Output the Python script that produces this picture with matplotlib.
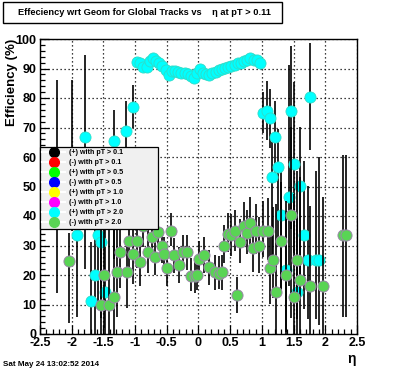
import matplotlib
matplotlib.use("Agg")
import matplotlib.pyplot as plt
from matplotlib.lines import Line2D
from matplotlib.patches import Rectangle
import numpy as np

plt.rcParams['font.family'] = ['Liberation Sans', 'DejaVu Sans']
plt.rcParams['font.weight'] = 'bold'

# ---------------- data ----------------
title_text = "Effeciency wrt Geom for Global Tracks vs    \u03b7 at pT > 0.11"
date_text = "Sat May 24 13:02:52 2014"
xlabel_text = "\u03b7"
ylabel_text = "Efficiency (%)"
xtick_vals = [-2.5, -2, -1.5, -1, -0.5, 0, 0.5, 1, 1.5, 2, 2.5]
xtick_labels = ["-2.5", "-2", "-1.5", "-1", "-0.5", "0", "0.5", "1", "1.5", "2", "2.5"]
ytick_vals = [0, 10, 20, 30, 40, 50, 60, 70, 80, 90, 100]
ytick_labels = ["0", "10", "20", "30", "40", "50", "60", "70", "80", "90", "100"]

legend_labels = ["(+) with pT > 0.1", "(-) with pT > 0.1", "(+) with pT > 0.5",
                 "(-) with pT > 0.5", "(+) with pT > 1.0", "(-) with pT > 1.0",
                 "(+) with pT > 2.0", "(-) with pT > 2.0"]
legend_colors = ["#000000", "#ff0000", "#00ff00", "#0000ff", "#ffff00", "#ff00ff",
                 "#00ffff", "#59d454"]

# (+) with pT > 2.0  (cyan)
cyan_left_eta = [-1.92, -1.79, -1.70, -1.63, -1.58, -1.54, -1.47, -1.33, -1.14, -1.03]
cyan_left_eff = [33.6, 66.9, 11.2, 20.0, 33.6, 31.3, 14.3, 65.5, 68.9, 76.8]
cyan_left_lo = [28, 45, 11.2, 20, 25, 26, 14.3, 40, 20, 7]
cyan_left_hi = [10, 27.6, 20, 25, 20, 20, 30, 10.5, 10, 7.6]

cyan_band_eta = [-0.97, -0.92, -0.87, -0.82, -0.77, -0.72, -0.67, -0.62, -0.57, -0.52,
                 -0.47, -0.42, -0.37, -0.32, -0.27, -0.22, -0.17, -0.12, -0.07, -0.02,
                 0.02, 0.07, 0.12, 0.17, 0.22, 0.27, 0.32, 0.37, 0.42, 0.47,
                 0.52, 0.57, 0.62, 0.67, 0.72, 0.77, 0.82, 0.87, 0.92, 0.97]
cyan_band_eff = [92.3, 91.8, 90.5, 90.6, 92.5, 93.5, 92.5, 91.8, 91.0, 89.5,
                 87.7, 89.3, 89.0, 88.8, 88.5, 88.4, 88.0, 87.5, 86.7, 88.5,
                 90.0, 88.4, 88.0, 87.7, 88.4, 88.8, 89.5, 89.8, 90.1, 90.5,
                 91.0, 91.3, 91.8, 92.0, 92.5, 92.8, 93.5, 93.0, 92.8, 92.0]
cyan_band_lo = [0.8] * 40
cyan_band_hi = [0.8] * 40

cyan_right_eta = [1.02, 1.08, 1.12, 1.16, 1.21, 1.26, 1.30, 1.38, 1.42, 1.46,
                  1.51, 1.56, 1.60, 1.66, 1.72, 1.76, 1.86, 1.90]
cyan_right_eff = [75.0, 75.6, 73.1, 53.1, 66.9, 56.5, 40.3, 21.7, 46.3, 75.6,
                  57.5, 14.3, 50.2, 33.6, 25.1, 80.5, 25.1, 25.1]
cyan_right_lo = [7, 10, 10, 30, 15, 25, 25, 21, 30, 40, 30, 14.3, 30, 25, 20, 18, 20, 22]
cyan_right_hi = [7, 10, 10, 12, 12, 13, 15, 20, 45, 22, 28, 25, 20, 25, 25, 18, 30, 35]

# (-) with pT > 2.0  (light green)
green_eta = [-2.23, -2.04, -1.99, -1.54, -1.49, -1.41, -1.33, -1.29, -1.24, -1.13,
             -1.10, -1.03, -0.97, -0.93, -0.88, -0.80, -0.73, -0.68, -0.64, -0.58,
             -0.54, -0.49, -0.43, -0.39, -0.31, -0.24, -0.18, -0.12, -0.06, -0.02,
             0.01, 0.09, 0.17, 0.26, 0.33, 0.37, 0.41, 0.47, 0.52, 0.58,
             0.61, 0.65, 0.71, 0.77, 0.82, 0.86, 0.91, 0.96, 1.01, 1.09,
             1.12, 1.17, 1.22, 1.30, 1.38, 1.46, 1.51, 1.56, 1.60, 1.76,
             1.97, 2.28, 2.33]
green_eff = [50, 24.8, 55, 9.8, 20.0, 9.8, 12.4, 20.9, 27.7, 20.9,
             31.6, 27.0, 31.5, 24.3, 36.6, 27.7, 32.8, 26.0, 34.7, 29.9,
             27.0, 22.3, 35.0, 26.7, 23.4, 27.7, 27.7, 19.6, 19.8, 20.0,
             25.4, 26.8, 22.6, 20.9, 20.3, 20.9, 29.9, 33.9, 33.6, 35.0,
             13.2, 31.1, 36.7, 34.1, 37.5, 29.0, 35.0, 29.8, 35.0, 35.0,
             22.3, 25.1, 14.1, 31.6, 20.0, 40.3, 12.4, 25.1, 18.3, 16.4,
             16.4, 33.6, 33.6]
green_lo = [36, 21, 20, 9.8, 18, 9.8, 12.4, 15, 12, 12,
            10, 10, 9, 8, 7, 7, 7, 6, 6, 6,
            6, 6, 5, 6, 6, 6, 6, 5, 6, 5,
            6, 6, 6, 6, 5, 6, 6, 6, 7, 7,
            6, 7, 7, 7, 8, 8, 8, 9, 9, 10,
            12, 13, 14, 17, 20, 35, 12.4, 20, 18.3, 16.4,
            16.4, 28, 28]
green_hi = [36, 9.4, 31, 45, 20, 50, 40, 30, 10, 12,
            9, 10, 8, 8, 7, 8, 7, 7, 6, 6,
            6, 7, 6, 6, 6, 6, 6, 6, 6, 6,
            6, 6, 6, 6, 6, 6, 7, 7, 7, 7,
            6, 8, 8, 8, 9, 9, 9, 10, 10, 11,
            14, 18, 30, 20, 25, 30, 35, 30, 35, 27,
            30, 27, 27]

# ---------------- figure ----------------
W, H = 396, 372
fig = plt.figure(figsize=(W / 100, H / 100), dpi=100)
fig.patch.set_facecolor('white')
ax = fig.add_axes([40 / W, 1 - 334 / H, 317 / W, 295 / H])
ax.set_xlim(-2.5, 2.5)
ax.set_ylim(0, 100)

for v in xtick_vals:
    ax.axvline(v, color='black', lw=0.9, ls=(0, (1, 2.2)), zorder=0.5)
for v in ytick_vals:
    ax.axhline(v, color='black', lw=0.9, ls=(0, (1, 2.2)), zorder=0.5)

cyan_eta = cyan_left_eta + cyan_band_eta + cyan_right_eta
cyan_eff = cyan_left_eff + cyan_band_eff + cyan_right_eff
cyan_lo = cyan_left_lo + cyan_band_lo + cyan_right_lo
cyan_hi = cyan_left_hi + cyan_band_hi + cyan_right_hi

ms = 8
ax.errorbar(cyan_eta, cyan_eff, yerr=[cyan_lo, cyan_hi], fmt='o', color=legend_colors[6],
            ms=ms, mec='#30dcc8', mew=0.6, ecolor='black', elinewidth=1.2, capsize=0, zorder=2)
ax.errorbar(green_eta, green_eff, yerr=[green_lo, green_hi], fmt='o', color=legend_colors[7],
            ms=ms, mec='#9a88a8', mew=0.7, ecolor='black', elinewidth=1.2, capsize=0, zorder=3)

ax.set_xticks(xtick_vals)
ax.set_xticklabels(xtick_labels, fontsize=9, fontweight='bold')
ax.set_yticks(ytick_vals)
ax.set_yticklabels(ytick_labels, fontsize=9, fontweight='bold')
ax.set_xticks(np.arange(-2.5, 2.501, 0.1), minor=True)
ax.set_yticks(np.arange(0, 100.1, 2), minor=True)
ax.tick_params(which='major', direction='in', length=6.5, width=0.9, top=False, right=False, pad=2)
ax.tick_params(which='minor', direction='in', length=3.5, width=0.9, top=False, right=False)
ax.tick_params(axis='y', pad=2.5)
for s in ax.spines.values():
    s.set_linewidth(1.0)

# axis titles
fig.text(12 / W, 1 - 39 / H, ylabel_text, rotation=90, ha='center', va='top',
         fontsize=9.5, fontweight='bold')
fig.text(356 / W, 1 - 352 / H, xlabel_text, ha='right', va='top', fontsize=10)

# title box
fig.patches.append(Rectangle((3 / W, 1 - 23 / H), 279 / W, 21 / H, transform=fig.transFigure,
                             facecolor='white', edgecolor='black', lw=1.0))
fig.text(144 / W, 1 - 12.5 / H, title_text, ha='center', va='center', fontsize=6.7,
         fontweight='bold')

# date
fig.text(3 / W, 1 - 365 / H, date_text, ha='left', va='center', fontsize=5.8, fontweight='bold')

# legend
handles = [Line2D([], [], color='white', lw=1.5, marker='o', ms=7, mfc=c, mec=c)
           for c in legend_colors]
leg = ax.legend(handles, legend_labels, loc='upper left',
                bbox_to_anchor=(40 / W, 1 - 222 / H, 118 / W, 75 / H),
                bbox_transform=fig.transFigure, mode='expand',
                prop={'weight': 'bold', 'size': 5.1}, frameon=True, fancybox=False,
                framealpha=1, facecolor='#f0f0f0', edgecolor='black',
                labelspacing=0.42, borderpad=0.35, handlelength=3.2, handletextpad=0.6,
                borderaxespad=0)
leg.get_frame().set_linewidth(0.9)
leg.set_zorder(10)

fig.savefig('out.png', dpi=100)
